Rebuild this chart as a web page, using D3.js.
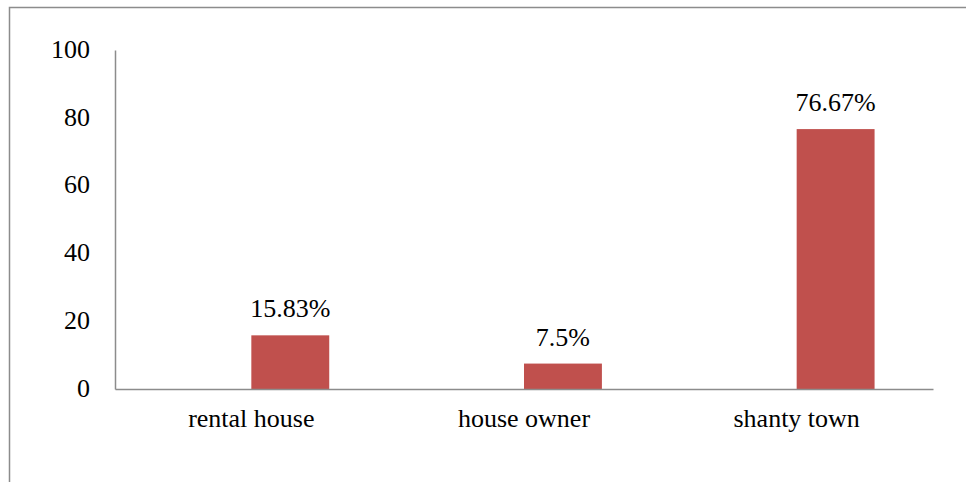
<!DOCTYPE html>
<html>
<head>
<meta charset="utf-8">
<script src="https://cdn.jsdelivr.net/npm/d3@7"></script>
<style>
body{margin:0;background:#fff}
svg text{fill:#000}
</style>
</head>
<body>
<div id="chart"></div>
<script>
// data
let categories=["rental house","house owner","shanty town"]
let values=[15.83,7.5,76.67]
let valueLabels=["15.83%","7.5%","76.67%"]
let yTicks=[0,20,40,60,80,100]
// excel clustered chart had an empty first series, so bars sit right of center
let seriesNames=["blank","percent"]

let fontFamily="'Liberation Serif','Times New Roman',serif"
let fontSize="26px"

let svgWidth=966
let svgHeight=482
let margin={top:50,right:33,bottom:93,left:115}
let chartWidth=svgWidth-margin.left-margin.right
let chartHeight=svgHeight-margin.top-margin.bottom

let svg=d3.select("#chart")
.append("svg")
.attr("width",svgWidth)
.attr("height",svgHeight)

// outer frame (only top and left edges visible)
svg.append("path")
.attr("d","M9.5,482 L9.5,7.5 L966,7.5")
.attr("fill","none")
.attr("stroke","#8c8c8c")
.attr("stroke-width",1.5)

let chartGroup=svg.append("g")
.attr("transform",`translate(${margin.left},${margin.top})`)

let xScale=d3.scaleBand()
.domain(categories)
.range([0,chartWidth])
.padding(0)
let subScale=d3.scaleBand()
.domain(seriesNames)
.range([0,xScale.bandwidth()])
.paddingInner(0)
.paddingOuter(0.75)
let yScale=d3.scaleLinear()
.domain([0,100])
.range([chartHeight,0])

// y axis
let leftAxis=d3.axisLeft(yScale).tickValues(yTicks).tickSize(0).tickPadding(25)
let yAxis=chartGroup.append("g").call(leftAxis)
.attr("font-family",fontFamily)
.attr("font-size",fontSize)
yAxis.select(".domain").attr("stroke","#8c8c8c").attr("stroke-width",1.5)
yAxis.selectAll("text").attr("dy","0.28em")

// bars
chartGroup.selectAll("rect.bar")
.data(values)
.enter()
.append("rect")
.attr("class","bar")
.attr("x",(d,i)=>xScale(categories[i])+subScale("percent"))
.attr("y",d=>yScale(d))
.attr("width",subScale.bandwidth())
.attr("height",d=>chartHeight-yScale(d))
.attr("fill","#c0504d")

// x axis
let bottomAxis=d3.axisBottom(xScale).tickSize(0).tickPadding(20)
let xAxis=chartGroup.append("g")
.attr("transform",`translate(0,${chartHeight})`)
.call(bottomAxis)
.attr("font-family",fontFamily)
.attr("font-size",fontSize)
xAxis.select(".domain").attr("stroke","#8c8c8c").attr("stroke-width",1.5)

// value labels
chartGroup.selectAll("text.valueLabel")
.data(values)
.enter()
.append("text")
.attr("class","valueLabel")
.attr("x",(d,i)=>xScale(categories[i])+subScale("percent")+subScale.bandwidth()/2)
.attr("y",d=>yScale(d)-18)
.attr("text-anchor","middle")
.attr("font-family",fontFamily)
.attr("font-size",fontSize)
.text((d,i)=>valueLabels[i])
</script>
</body>
</html>
